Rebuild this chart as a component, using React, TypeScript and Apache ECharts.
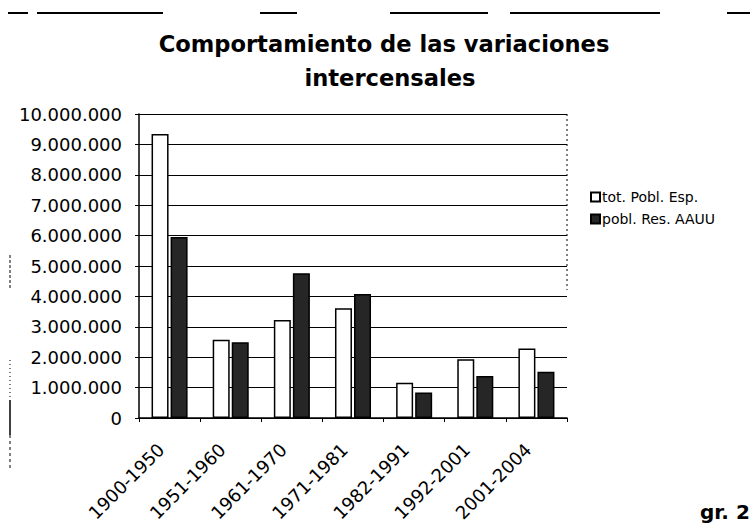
import React, { useEffect, useRef } from "react";
import * as echarts from "echarts";

const categories = ["1900-1950", "1951-1960", "1961-1970", "1971-1981", "1982-1991", "1992-2001", "2001-2004"];
const totPoblEsp = [9340000, 2570000, 3220000, 3610000, 1160000, 1930000, 2290000];
const poblResAAUU = [5950000, 2490000, 4760000, 4080000, 840000, 1380000, 1520000];
const seriesNames = ["tot. Pobl. Esp.", "pobl. Res. AAUU"];
const titleLines = ["Comportamiento de las variaciones", "intercensales"];
const footnote = "gr. 2";

const fmt = (v: number) => String(Math.round(v)).replace(/\B(?=(\d{3})+(?!\d))/g, ".");

const FONT = "DejaVu Sans";

export default function App() {
  const ref = useRef<HTMLDivElement>(null);
  useEffect(() => {
    if (!ref.current) return;
    const chart = echarts.init(ref.current, null, { renderer: "svg" });
    const seg = (x1: number, x2: number, y: number, w = 2, dash?: number[]) => ({
      type: "line",
      shape: { x1, y1: y, x2, y2: y },
      style: { stroke: "#000", lineWidth: w, lineDash: dash },
      silent: true,
    });
    const vseg = (x: number, y1: number, y2: number, w = 1, dash?: number[]) => ({
      type: "line",
      shape: { x1: x, y1, x2: x, y2 },
      style: { stroke: "#000", lineWidth: w, lineDash: dash },
      silent: true,
    });
    chart.setOption({
      animation: false,
      backgroundColor: "#fff",
      textStyle: { fontFamily: FONT, color: "#000" },
      grid: { left: 139, top: 114, width: 428, height: 304, containLabel: false },
      legend: {
        orient: "vertical",
        left: 585,
        top: 185,
        itemWidth: 9,
        itemHeight: 9,
        itemGap: 8,
        icon: "rect",
        textStyle: { fontFamily: FONT, fontSize: 14, color: "#000", padding: [0, 0, 0, -3] },
        data: seriesNames,
      },
      xAxis: {
        type: "category",
        data: categories,
        axisLine: { lineStyle: { color: "#000", width: 1.5 } },
        axisTick: { show: true, length: 4, lineStyle: { color: "#000" } },
        axisLabel: {
          rotate: 45,
          fontFamily: FONT,
          fontSize: 18,
          color: "#000",
          margin: 20,
          padding: [0, 12, 0, 0],
        },
      },
      yAxis: {
        type: "value",
        min: 0,
        max: 10000000,
        interval: 1000000,
        axisLine: { show: true, lineStyle: { color: "#000", width: 1.5 } },
        axisTick: { show: true, length: 4, lineStyle: { color: "#000" } },
        splitLine: { show: true, lineStyle: { color: "#000", width: 1 } },
        axisLabel: { fontFamily: FONT, fontSize: 18, color: "#000", margin: 17, formatter: fmt },
      },
      series: [
        {
          name: seriesNames[0],
          type: "bar",
          data: totPoblEsp,
          barWidth: 17,
          barGap: "12%",
          itemStyle: { color: "#fff", borderColor: "#000", borderWidth: 1.5 },
        },
        {
          name: seriesNames[1],
          type: "bar",
          data: poblResAAUU,
          barWidth: 17,
          itemStyle: { color: "#262626", borderColor: "#000", borderWidth: 1.5 },
        },
      ],
      graphic: [
        {
          type: "text",
          x: 384,
          y: 55,
          style: {
            text: titleLines[0],
            font: `bold 22.6px '${FONT}'`,
            fill: "#000",
            textAlign: "center",
            textVerticalAlign: "bottom",
          },
        },
        {
          type: "text",
          x: 390,
          y: 89,
          style: {
            text: titleLines[1],
            font: `bold 22.6px '${FONT}'`,
            fill: "#000",
            textAlign: "center",
            textVerticalAlign: "bottom",
          },
        },
        {
          type: "text",
          x: 700,
          y: 522,
          style: {
            text: footnote,
            font: `bold 20px '${FONT}'`,
            fill: "#000",
            textAlign: "left",
            textVerticalAlign: "bottom",
          },
        },
        seg(8, 28, 13),
        seg(37, 163, 13),
        seg(260, 297, 13),
        seg(390, 488, 13),
        seg(510, 660, 13),
        seg(727, 750, 13),
        vseg(567, 114, 290, 1, [2, 3]),
        vseg(10, 255, 290, 1, [3, 2]),
        vseg(10, 360, 398, 1, [1, 3]),
        vseg(10, 400, 435, 1.5),
        vseg(10, 435, 470, 1, [3, 3]),
      ],
    });
    return () => chart.dispose();
  }, []);
  return <div ref={ref} style={{ width: 750, height: 531, position: "absolute", left: 0, top: 0 }} />;
}
